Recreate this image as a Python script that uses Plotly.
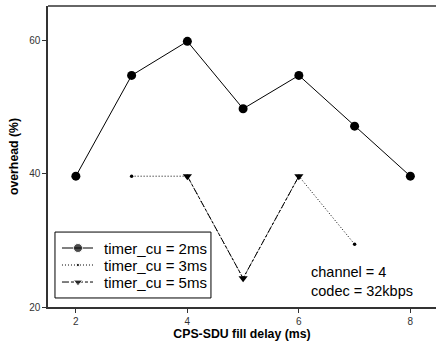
import plotly.graph_objects as go

x_2ms = [2, 3, 4, 5, 6, 7, 8]
y_2ms = [39.6, 54.7, 59.8, 49.7, 54.7, 47.1, 39.6]
x_3ms = [3, 4, 5, 6, 7]
y_3ms = [39.6, 39.6, 24.3, 39.6, 29.4]
x_5ms = [4, 5, 6]
y_5ms = [39.6, 24.3, 39.6]
x_ticks = [2, 4, 6, 8]
y_ticks = [20, 40, 60]
series_names = ["timer_cu = 2ms", "timer_cu = 3ms", "timer_cu = 5ms"]

styles = [
    dict(dash="solid", symbol="circle", size=9),
    dict(dash="1px,2px", symbol="circle", size=3.5),
    dict(dash="7px,2px,3px,2px", symbol="triangle-down", size=8),
]

fig = go.Figure()
for (xs, ys), name, st in zip([(x_2ms, y_2ms), (x_3ms, y_3ms), (x_5ms, y_5ms)], series_names, styles):
    fig.add_trace(go.Scatter(x=xs, y=ys, name=name, mode="lines+markers", showlegend=False,
                             line=dict(color="black", width=1, dash=st["dash"]),
                             marker=dict(symbol=st["symbol"], size=st["size"], color="black")))

# custom legend (overlay axes spanning the plot area, 0..1)
leg_x0, leg_x1, leg_y0, leg_y1 = 0.018, 0.420, 0.030, 0.249
row_y = [0.196, 0.1395, 0.083]
fig.add_shape(type="rect", xref="paper", yref="paper", x0=leg_x0, x1=leg_x1, y0=leg_y0, y1=leg_y1,
              line=dict(color="black", width=1), fillcolor="white", layer="below")
for ry, name, st in zip(row_y, series_names, styles):
    fig.add_trace(go.Scatter(x=[0.036, 0.0773, 0.116], y=[ry, ry, ry], xaxis="x2", yaxis="y2",
                             mode="lines+markers", showlegend=False, hoverinfo="skip",
                             line=dict(color="black", width=1, dash=st["dash"]),
                             marker=dict(symbol=st["symbol"], size=[0, st["size"], 0], color="black")))
    fig.add_annotation(text=name, xref="paper", yref="paper", x=0.139, y=ry,
                       xanchor="left", yanchor="middle", showarrow=False,
                       font=dict(family="Arial", size=15, color="black"))

fig.add_shape(type="line", xref="paper", yref="paper", x0=0, x1=1, y0=1, y1=1,
              line=dict(color="#333", width=1.5))

fig.add_annotation(text="channel = 4<br>codec = 32kbps", xref="paper", yref="paper",
                   x=0.672, y=0.15, xanchor="left", yanchor="top", showarrow=False,
                   align="left", font=dict(family="Arial", size=14.5, color="black"))

fig.update_layout(
    width=436, height=345,
    margin=dict(l=48, r=0, t=6, b=38),
    paper_bgcolor="white", plot_bgcolor="white",
    font=dict(family="Arial", color="black"),
    showlegend=False,
    xaxis=dict(range=[1.5, 8.46], tickvals=x_ticks, showgrid=False, zeroline=False,
               showline=True, linecolor="#333", linewidth=1.5,
               ticks="outside", ticklen=4, tickcolor="#333",
               tickfont=dict(family="Arial", size=10, color="#333"),
               title=dict(text="<b>CPS-SDU fill delay (ms)</b>", standoff=4,
                          font=dict(family="Arial", size=12.3, color="black"))),
    yaxis=dict(range=[20, 65.1], tickvals=y_ticks, showgrid=False, zeroline=False,
               showline=True, linecolor="#333", linewidth=1.5,
               ticks="outside", ticklen=4, tickcolor="#333",
               tickfont=dict(family="Arial", size=10, color="#333"),
               title=dict(text="<b>overhead (%)</b>", standoff=8,
                          font=dict(family="Arial", size=12.3, color="black"))),
    xaxis2=dict(overlaying="x", range=[0, 1], visible=False, fixedrange=True),
    yaxis2=dict(overlaying="y", range=[0, 1], visible=False, fixedrange=True),
)

fig.write_html("out.html")
